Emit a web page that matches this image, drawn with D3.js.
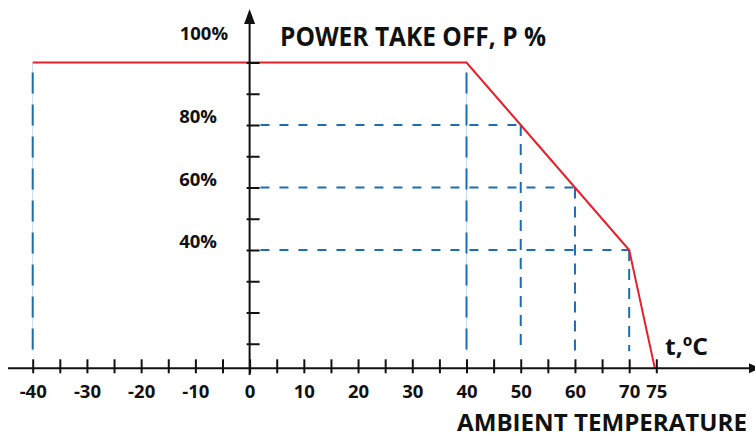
<!DOCTYPE html>
<html>
<head>
<meta charset="utf-8">
<script src="https://cdn.jsdelivr.net/npm/d3@7"></script>
<style>
    body{ margin:0; background:#fff; }
    svg{ display:block; }
    .lbl{ font-family:"Open Sans", sans-serif; font-weight:700; fill:#111; }
    .axisline{ stroke:#111; stroke-width:2; fill:none; }
    .trace{ stroke:#e8202a; stroke-width:2; fill:none; }
    .guide{ stroke:#1b6db5; stroke-width:2; fill:none; }
    .guide-faint{ stroke:#c9d9ec; stroke-width:1; fill:none; }
</style>
</head>
<body>
<script>
// derating curve
let temps = [-40, 40, 50, 60, 70, 75]
let power = [100, 100, 80, 60, 40, 0]

// axis ticks and labels
let xTickValues = d3.range(-40, 80, 5)
let xLabelValues = [-40, -30, -20, -10, 0, 10, 20, 30, 40, 50, 60, 70, 75]
let yTickValues = [10, 20, 30, 40, 50, 60, 70, 80, 90, 100]
let yLabelValues = [40, 60, 80, 100]

// guide lines: [temperature, power]
let guideVertical = [[-40, 100], [40, 100], [50, 80], [60, 60], [70, 40]]
let guideHorizontal = [[80, 50], [60, 60], [40, 70]]

let w = 755, h = 442
let axisY = 368.3

let svg = d3.select("body").append("svg").attr("width", w).attr("height", h)

let x = d3.scaleLinear().domain([-40, 75]).range([32.7, 656.3])
let y = d3.scaleLinear().domain([0, 100]).range([375, 62.5])

// dashed guides
for (let [t, p] of guideVertical) {
    let long = (t === -40 || t === 40)
    let top = (t === 40) ? y(p) + 10 : y(p)
    if (long) {
        svg.append("line").attr("class", "guide-faint")
            .attr("x1", x(t)).attr("x2", x(t)).attr("y1", top).attr("y2", axisY - 17)
    }
    svg.append("line").attr("class", "guide")
        .attr("x1", x(t)).attr("x2", x(t))
        .attr("y1", long && t === -40 ? top + 10 : top).attr("y2", axisY - 17)
        .attr("stroke-dasharray", long ? "21,11" : "11,8")
}
for (let [p, t] of guideHorizontal) {
    svg.append("line").attr("class", "guide")
        .attr("x1", x(2)).attr("x2", x(t))
        .attr("y1", y(p)).attr("y2", y(p))
        .attr("stroke-dasharray", "9,10")
}

// red curve, clipped at the temperature axis
svg.append("clipPath").attr("id", "above")
    .append("rect").attr("x", 0).attr("y", 0).attr("width", w).attr("height", axisY)
let line = d3.line().x((d, i) => x(temps[i])).y(d => y(d))
svg.append("path").datum(power)
    .attr("class", "trace")
    .attr("clip-path", "url(#above)")
    .attr("d", line)

// temperature axis
let xAxis = d3.axisBottom(x)
    .tickValues(xTickValues)
    .tickSize(0)
    .tickFormat(d => xLabelValues.includes(d) ? d : "")
let gx = svg.append("g").attr("transform", "translate(0," + axisY + ")").call(xAxis)
gx.select(".domain").remove()
gx.selectAll(".tick line").attr("y1", -9).attr("y2", 5).attr("stroke", "#111").attr("stroke-width", 2)
gx.selectAll(".tick text")
    .attr("class", "lbl").attr("y", 30).attr("dy", 0)
    .style("font-size", "18.5px")
svg.append("line").attr("class", "axisline")
    .attr("x1", 8).attr("x2", 750).attr("y1", axisY).attr("y2", axisY)
svg.append("path").attr("fill", "#111")
    .attr("d", "M749," + (axisY - 5) + "L760," + axisY + "L749," + (axisY + 5) + "Z")

// power axis
let yAxis = d3.axisRight(y).tickValues(yTickValues).tickSize(10).tickFormat("")
let gy = svg.append("g").attr("transform", "translate(" + x(0) + ",0)").call(yAxis)
gy.select(".domain").remove()
gy.selectAll(".tick line").attr("x1", -3).attr("stroke", "#111").attr("stroke-width", 2)
svg.append("line").attr("class", "axisline")
    .attr("x1", x(0)).attr("x2", x(0)).attr("y1", y(0)).attr("y2", 22)
svg.append("path").attr("fill", "#111")
    .attr("d", "M" + (x(0) - 5.5) + ",24L" + x(0) + ",9L" + (x(0) + 5.5) + ",24Z")

for (let v of yLabelValues) {
    let top = (v === 100)
    svg.append("text").attr("class", "lbl")
        .attr("x", x(0) - (top ? 21.5 : 32.6))
        .attr("y", top ? y(v) - 22.5 : y(v) - 2)
        .attr("text-anchor", "end")
        .style("font-size", "18.5px")
        .text(v + "%")
}

// titles
svg.append("text").attr("class", "lbl")
    .attr("x", 280).attr("y", 45.7)
    .attr("textLength", 266).attr("lengthAdjust", "spacingAndGlyphs")
    .style("font-size", "26px")
    .text("POWER TAKE OFF, P %")
svg.append("text").attr("class", "lbl")
    .attr("x", 457).attr("y", 431)
    .attr("textLength", 290).attr("lengthAdjust", "spacingAndGlyphs")
    .style("font-size", "24px")
    .text("AMBIENT TEMPERATURE")
svg.append("text").attr("class", "lbl")
    .attr("x", 665).attr("y", 355)
    .attr("textLength", 43).attr("lengthAdjust", "spacingAndGlyphs")
    .style("font-size", "24px")
    .text("t,ºC")
</script>
</body>
</html>
